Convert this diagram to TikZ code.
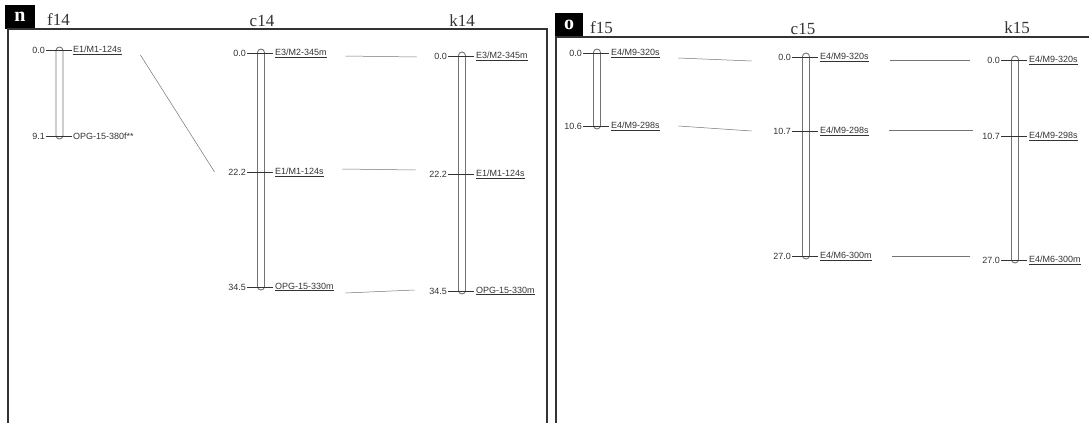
\documentclass[tikz,border=0pt]{standalone}
\usepackage{fontspec}
\setmainfont{Liberation Sans}
\newfontfamily\titlefont{Liberation Serif}
\definecolor{ink}{gray}{0.2}
\definecolor{linegray}{gray}{0.45}
\begin{document}
\begin{tikzpicture}[x=1pt,y=-1pt,
  frame/.style={draw=ink,line width=1.4pt},
  tag/.style={fill=black,text=white,font=\titlefont\bfseries\fontsize{20}{20}\selectfont,inner sep=0pt},
  ttl/.style={font=\titlefont\fontsize{17}{17}\selectfont,text=ink,inner sep=0pt},
  chrom/.style={draw=linegray,line width=0.9pt,rounded corners=3.5pt},
  tick/.style={draw=ink,line width=0.6pt},
  num/.style={anchor=east,font=\fontsize{9}{10}\selectfont,text=ink,inner sep=1pt},
  lbl/.style={anchor=west,font=\fontsize{9}{10}\selectfont,text=ink,inner sep=1pt},
  conn/.style={draw=linegray,line width=0.5pt}]
\useasboundingbox (0,0) rectangle (1089,423);
% ---------------- panel n ----------------
\node[tag,minimum width=30pt,minimum height=24pt] (tn) at (20,17) {n};
\draw[frame] (8,423) -- (8,29) -- (547,29) -- (547,423);
\node[ttl,anchor=west] (tf14) at (47,20) {f14};
\node[ttl] (tc14) at (262,21) {c14};
\node[ttl] (tk14) at (462,21) {k14};
% f14
\draw[chrom] (56,47) rectangle (63,139);
\draw[tick] (46,50) -- (72,50);
\draw[tick] (46,136) -- (72,136);
\node[num] (f14an) at (46,50) {0.0};
\node[num] (f14bn) at (46,136) {9.1};
\node[lbl] (f14a) at (72,50) {\underline{E1/M1-124s}};
\node[lbl] (f14b) at (72,136) {OPG-15-380f**};
% c14
\draw[chrom] (257.5,49) rectangle (264.5,290);
\draw[tick] (247,53) -- (273,53);
\draw[tick] (247,172) -- (273,172);
\draw[tick] (247,287) -- (273,287);
\node[num] (c14an) at (247,53) {0.0};
\node[num] (c14bn) at (247,172) {22.2};
\node[num] (c14cn) at (247,287) {34.5};
\node[lbl] (c14a) at (274,53) {\underline{E3/M2-345m}};
\node[lbl] (c14b) at (274,172) {\underline{E1/M1-124s}};
\node[lbl] (c14c) at (274,287) {\underline{OPG-15-330m}};
% k14
\draw[chrom] (458.5,52) rectangle (465.5,294);
\draw[tick] (448,56) -- (474,56);
\draw[tick] (448,174) -- (474,174);
\draw[tick] (448,291) -- (474,291);
\node[num] (k14an) at (448,56) {0.0};
\node[num] (k14bn) at (448,174) {22.2};
\node[num] (k14cn) at (448,291) {34.5};
\node[lbl] (k14a) at (475,56) {\underline{E3/M2-345m}};
\node[lbl] (k14b) at (475,174) {\underline{E1/M1-124s}};
\node[lbl] (k14c) at (475,291) {\underline{OPG-15-330m}};
% connectors n
\draw[conn] ([xshift=17.5pt,yshift=-5pt]f14a.east) -- ([xshift=-12.5pt]c14bn.west);
\draw[conn] ([xshift=17.5pt,yshift=-3pt]c14a.east) -- ([xshift=-16.5pt,yshift=-1pt]k14an.west);
\draw[conn] ([xshift=17.5pt,yshift=3pt]c14b.east) -- ([xshift=-12.5pt,yshift=4pt]k14bn.west);
\draw[conn] ([xshift=10.5pt,yshift=-6pt]c14c.east) -- ([xshift=-13.5pt,yshift=1pt]k14cn.west);
% ---------------- panel o ----------------
\node[tag,minimum width=28pt,minimum height=24pt] (to) at (569,25) {o};
\draw[frame] (556,423) -- (556,37) -- (1089,37);
\node[ttl,anchor=west] (tf15) at (590,28) {f15};
\node[ttl] (tc15) at (803,29) {c15};
\node[ttl] (tk15) at (1017,28) {k15};
% f15
\draw[chrom] (593.5,49) rectangle (600.5,129);
\draw[tick] (583,53) -- (609,53);
\draw[tick] (583,126) -- (609,126);
\node[num] (f15an) at (583,53) {0.0};
\node[num] (f15bn) at (583,126) {10.6};
\node[lbl] (f15a) at (610,53) {\underline{E4/M9-320s}};
\node[lbl] (f15b) at (610,126) {\underline{E4/M9-298s}};
% c15
\draw[chrom] (802.5,53) rectangle (809.5,259);
\draw[tick] (792,57) -- (818,57);
\draw[tick] (792,131) -- (818,131);
\draw[tick] (792,256) -- (818,256);
\node[num] (c15an) at (792,57) {0.0};
\node[num] (c15bn) at (792,131) {10.7};
\node[num] (c15cn) at (792,256) {27.0};
\node[lbl] (c15a) at (819,57) {\underline{E4/M9-320s}};
\node[lbl] (c15b) at (819,131) {\underline{E4/M9-298s}};
\node[lbl] (c15c) at (819,256) {\underline{E4/M6-300m}};
% k15
\draw[chrom] (1011.5,56) rectangle (1018.5,263);
\draw[tick] (1001,60) -- (1027,60);
\draw[tick] (1001,136) -- (1027,136);
\draw[tick] (1001,260) -- (1027,260);
\node[num] (k15an) at (1001,60) {0.0};
\node[num] (k15bn) at (1001,136) {10.7};
\node[num] (k15cn) at (1001,260) {27.0};
\node[lbl] (k15a) at (1028,60) {\underline{E4/M9-320s}};
\node[lbl] (k15b) at (1028,136) {\underline{E4/M9-298s}};
\node[lbl] (k15c) at (1028,260) {\underline{E4/M6-300m}};
% connectors o
\draw[conn] ([xshift=17.5pt,yshift=-5pt]f15a.east) -- ([xshift=-25.5pt,yshift=-4pt]c15an.west);
\draw[conn] ([xshift=17.5pt]f15b.east) -- ([xshift=-20.5pt]c15bn.west);
\draw[conn] ([xshift=20.5pt,yshift=-3pt]c15a.east) -- ([xshift=-16.5pt]k15an.west);
\draw[conn] ([xshift=19.5pt,yshift=1pt]c15b.east) -- ([xshift=-8.5pt,yshift=6pt]k15bn.west);
\draw[conn] ([xshift=19.5pt]c15c.east) -- ([xshift=-11.5pt,yshift=4pt]k15cn.west);
\end{tikzpicture}
\end{document}
